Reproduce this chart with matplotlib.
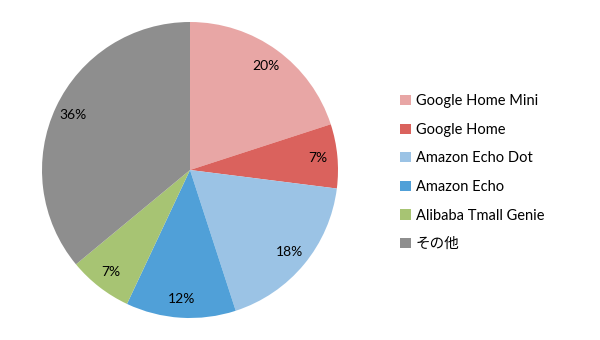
import matplotlib
matplotlib.use("Agg")
import matplotlib.pyplot as plt
from matplotlib.patches import Patch

plt.rcParams['font.family'] = ['Lato', 'Noto Sans CJK JP', 'DejaVu Sans']

labels = ["Google Home Mini", "Google Home", "Amazon Echo Dot",
          "Amazon Echo", "Alibaba Tmall Genie", "その他"]
shares = [20, 7, 18, 12, 7, 36]
colors = ["#E8A6A5", "#DA625D", "#9BC3E5", "#50A0D8", "#A7C473", "#8E8E8E"]

fig = plt.figure(figsize=(6, 3.4), dpi=100)
ax = fig.add_axes([42 / 600, 22 / 340, 296 / 600, 296 / 340])

wedges, texts, autotexts = ax.pie(
    shares, colors=colors, startangle=90, counterclock=False,
    autopct=lambda p: "%d%%" % round(p), pctdistance=0.87,
    wedgeprops=dict(linewidth=0),
    textprops=dict(fontsize=10, color="black"))
ax.set_xlim(-1, 1)
ax.set_ylim(-1, 1)
ax.set_aspect("equal")

handles = [Patch(facecolor=c, edgecolor="none") for c in colors]
fig.legend(handles, labels, loc="upper left", bbox_to_anchor=(393 / 600, 1 - 87 / 340),
           frameon=False, fontsize=10.5, handlelength=0.7, handleheight=0.7,
           handletextpad=0.35, labelspacing=1.0, borderpad=0)

fig.savefig("out.png", dpi=100, facecolor="white")
